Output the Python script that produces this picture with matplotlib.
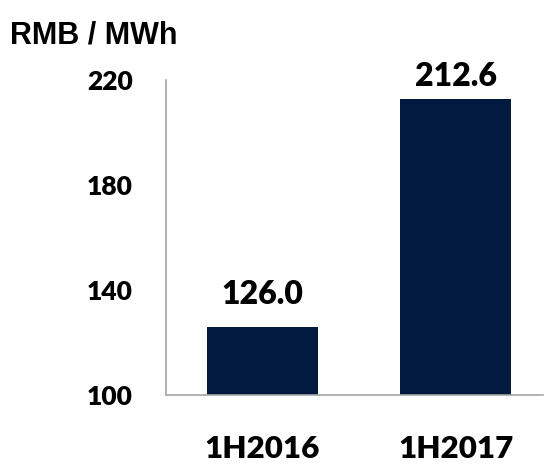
import matplotlib.pyplot as plt

periods = ['1H2016', '1H2017']
tariff = [126.0, 212.6]
yticks = [100, 140, 180, 220]

navy = '#021a40'
num_font = 'Lato'
num_weight = 'heavy'

fig = plt.figure(figsize=(5.44, 4.67), dpi=100)
ax = fig.add_axes([166 / 544, 1 - 395 / 467, 377 / 544, (395 - 79.5) / 467])

x = range(len(periods))
bars = ax.bar(x, tariff, width=0.575, color=navy, zorder=2)

ax.set_ylim(100, 220)
ax.set_xlim(-0.5, 1.453)
ax.set_yticks(yticks)
ax.set_yticklabels([str(t) for t in yticks], fontsize=19, fontweight=num_weight,
                   family=num_font)
ax.set_xticks(list(x))
ax.set_xticklabels(periods, fontsize=22.5, fontweight=num_weight, family=num_font)
ax.tick_params(axis='y', length=0, pad=24)
ax.tick_params(axis='x', length=0, pad=29)

for s in ['top', 'right']:
    ax.spines[s].set_visible(False)
for s in ['left', 'bottom']:
    ax.spines[s].set_color('#a6a6a6')
    ax.spines[s].set_linewidth(1.2)

# value labels above each bar
offsets = [16, 9]
for b, v, off in zip(bars, tariff, offsets):
    ax.annotate(f'{v:.1f}', (b.get_x() + b.get_width() / 2, v),
                xytext=(0, off), textcoords='offset points',
                ha='center', va='baseline', fontsize=23, fontweight=num_weight,
                family=num_font, annotation_clip=False)

fig.text(10 / 544, 1 - 44 / 467, 'RMB / MWh', fontsize=22, fontweight='bold',
         family='Liberation Sans', ha='left', va='baseline')

fig.savefig('out.png', dpi=100)
